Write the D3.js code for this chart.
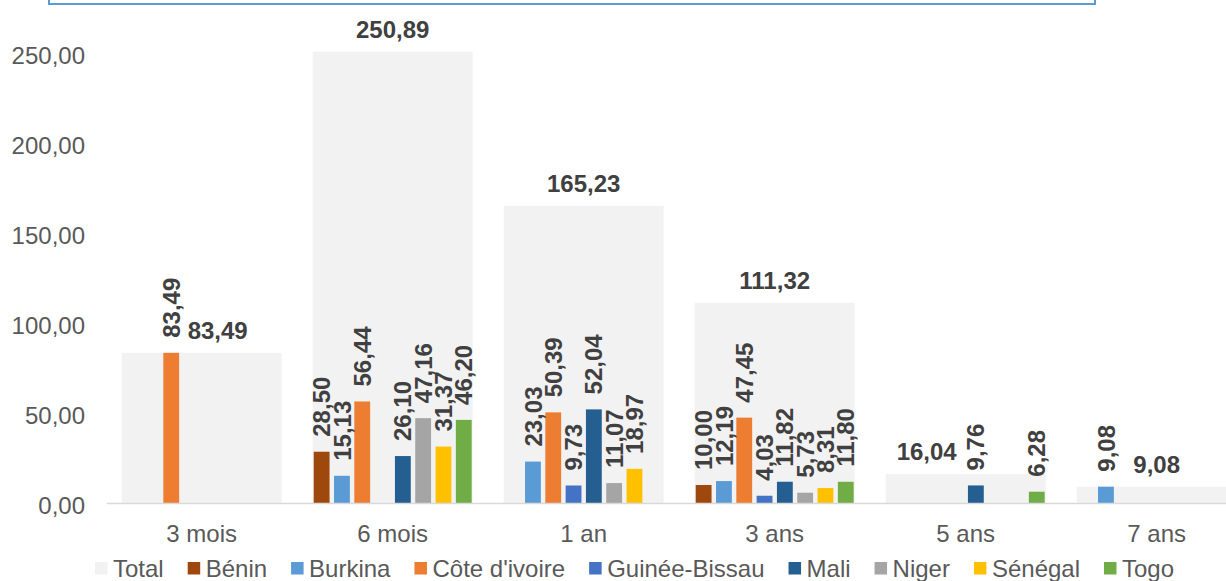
<!DOCTYPE html>
<html>
<head>
<meta charset="utf-8">
<script src="https://cdn.jsdelivr.net/npm/d3@7"></script>
<style>
  body { margin: 0; background: #ffffff; }
  svg { display: block; font-family: "Liberation Sans", Arial, sans-serif; }
</style>
</head>
<body>
<svg id="chart" width="1226" height="581"></svg>
<script>
// data
var categories = ["3 mois", "6 mois", "1 an", "3 ans", "5 ans", "7 ans"];
var total_values = [83.49, 250.89, 165.23, 111.32, 16.04, 9.08];
var benin_values = [null, 28.50, null, 10.00, null, null];
var burkina_values = [null, 15.13, 23.03, 12.19, null, 9.08];
var cote_values = [83.49, 56.44, 50.39, 47.45, null, null];
var guinee_values = [null, null, 9.73, 4.03, null, null];
var mali_values = [null, 26.10, 52.04, 11.82, 9.76, null];
var niger_values = [null, 47.16, 11.07, 5.73, null, null];
var senegal_values = [null, 31.37, 18.97, 8.31, null, null];
var togo_values = [null, 46.20, null, 11.80, 6.28, null];
var y_ticks = [0, 50, 100, 150, 200, 250];

var series_names = ["Bénin", "Burkina", "Côte d'ivoire", "Guinée-Bissau", "Mali", "Niger", "Sénégal", "Togo"];
var series_values = [benin_values, burkina_values, cote_values, guinee_values, mali_values, niger_values, senegal_values, togo_values];
var series_colors = ["#9e480e", "#5b9bd5", "#ed7d31", "#4472c4", "#255e91", "#a5a5a5", "#ffc000", "#70ad47"];
var total_color = "#f2f2f2";

// nudges Excel applied to a couple of total labels (px)
var total_label_shift = [16, 0, 0, 0, -39, 0];

var svg = d3.select("#chart");
var fr = d3.formatLocale({ decimal: ",", thousands: " ", grouping: [3], currency: ["", ""] });
var fmt = fr.format(".2f");

// blue frame cut off at the top
svg.append("rect")
    .attr("x", 49).attr("y", -20)
    .attr("width", 1046).attr("height", 24)
    .attr("fill", "none")
    .attr("stroke", "#5b9bd5")
    .attr("stroke-width", 2);

var y = d3.scaleLinear().domain([0, 250]).range([503, 53.3]);

var x0 = d3.scaleBand()
    .domain(categories)
    .range([106.2, 1252.2])
    .paddingInner(31 / 191)
    .paddingOuter(15.5 / 191);

var x1 = d3.scaleBand()
    .domain(series_names)
    .range([0, x0.bandwidth()])
    .paddingInner(0.22)
    .paddingOuter(0.05);

// total bars (background)
svg.append("g").selectAll("rect")
    .data(categories)
    .enter()
    .append("rect")
    .attr("x", function (d) { return x0(d); })
    .attr("y", function (d, i) { return y(total_values[i]); })
    .attr("width", x0.bandwidth())
    .attr("height", function (d, i) { return y(0) - y(total_values[i]); })
    .attr("fill", total_color);

// country bars
var flat = [];
series_names.forEach(function (s, si) {
    categories.forEach(function (c, ci) {
        var v = series_values[si][ci];
        if (v != null) flat.push({ cat: c, series: s, value: v, color: series_colors[si] });
    });
});

svg.append("g").selectAll("rect")
    .data(flat)
    .enter()
    .append("rect")
    .attr("x", function (d) { return x0(d.cat) + x1(d.series); })
    .attr("y", function (d) { return y(d.value); })
    .attr("width", x1.bandwidth())
    .attr("height", function (d) { return y(0) - y(d.value); })
    .attr("fill", function (d) { return d.color; });

// axes
var y_axis = svg.append("g")
    .attr("transform", "translate(106,0)")
    .call(d3.axisLeft(y).tickValues(y_ticks).tickSize(0).tickPadding(21).tickFormat(fmt));
y_axis.select(".domain").remove();
y_axis.selectAll("text")
    .attr("dy", "0.42em")
    .style("font-size", "24px")
    .style("font-family", "'Liberation Sans', Arial, sans-serif")
    .attr("fill", "#595959");

var x_axis = svg.append("g")
    .attr("transform", "translate(0,503)")
    .call(d3.axisBottom(x0).tickSize(0).tickSizeOuter(0).tickPadding(22));
x_axis.select(".domain").attr("stroke", "#d9d9d9").attr("stroke-width", 1.5);
x_axis.selectAll("text")
    .style("font-size", "24px")
    .style("font-family", "'Liberation Sans', Arial, sans-serif")
    .attr("fill", "#595959");

// total labels
svg.append("g").selectAll("text")
    .data(categories)
    .enter()
    .append("text")
    .attr("x", function (d, i) { return x0(d) + x0.bandwidth() / 2 + total_label_shift[i]; })
    .attr("y", function (d, i) { return y(total_values[i]) - 14; })
    .attr("text-anchor", "middle")
    .style("font-size", "24px")
    .style("font-weight", "bold")
    .attr("fill", "#404040")
    .text(function (d, i) { return fmt(total_values[i]); });

// country labels, rotated
svg.append("g").selectAll("text")
    .data(flat)
    .enter()
    .append("text")
    .attr("transform", function (d) {
        var cx = x0(d.cat) + x1(d.series) + x1.bandwidth() / 2;
        var cy = y(d.value) - 15;
        return "translate(" + cx + "," + cy + ") rotate(-90)";
    })
    .attr("dy", "0.36em")
    .attr("text-anchor", "start")
    .style("font-size", "24px")
    .style("font-weight", "bold")
    .attr("fill", "#404040")
    .text(function (d) { return fmt(d.value); });

// legend
var legend_names = ["Total"].concat(series_names);
var legend_colors = [total_color].concat(series_colors);
var legend = svg.append("g");
var lx = 95;
legend_names.forEach(function (name, i) {
    legend.append("rect")
        .attr("x", lx).attr("y", 562)
        .attr("width", 12.5).attr("height", 12.5)
        .attr("fill", legend_colors[i]);
    var t = legend.append("text")
        .attr("x", lx + 18).attr("y", 576.5)
        .style("font-size", "24px")
        .attr("fill", "#595959")
        .text(name);
    lx += 18 + t.node().getComputedTextLength() + 24;
});
</script>
</body>
</html>
